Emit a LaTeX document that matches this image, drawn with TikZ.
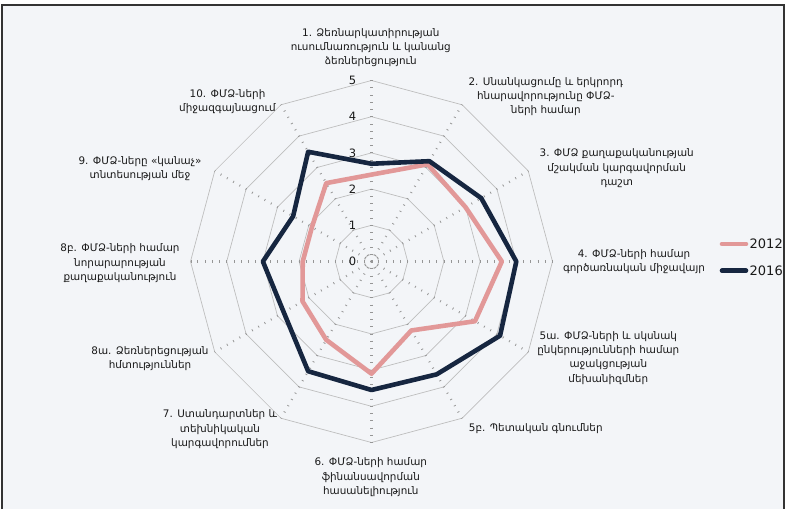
\documentclass[tikz,border=0pt]{standalone}
\usepackage{fontspec}
\setmainfont{DejaVu Sans}
\definecolor{bgc}{RGB}{243,245,248}
\definecolor{pinkc}{RGB}{226,152,152}
\definecolor{navyc}{RGB}{22,38,64}
\definecolor{ringc}{RGB}{190,190,190}
\definecolor{tickc}{RGB}{150,150,150}
\definecolor{txtc}{RGB}{25,25,25}
\begin{document}
\begin{tikzpicture}[x=1pt,y=1pt,
  frame/.style={draw=black!80,line width=1.6pt},
  ring/.style={draw=ringc,line width=0.7pt},
  spoke/.style={draw=tickc,line width=2.2pt,dash pattern=on 0.8pt off 6.44pt,dash phase=0.4pt},
  cat/.style={align=center,inner sep=0pt,text=txtc,font=\fontsize{10.4}{14.2}\selectfont},
  vallab/.style={inner sep=0pt,text=txtc,font=\fontsize{11.5}{13}\selectfont},
  series12/.style={draw=pinkc,line width=4.6pt,line join=round},
  series16/.style={draw=navyc,line width=4.6pt,line join=round},
  leglab/.style={anchor=west,inner sep=0pt,text=txtc,font=\fontsize{13}{15}\selectfont}]
\useasboundingbox (0,0) rectangle (786,509);
\fill[white] (0,0) rectangle (786,509);
\fill[bgc] (2,0) rectangle (784,504);
\draw[frame] (2,0) -- (2,504) -- (784,504) -- (784,0);
\def\u{36.2}
\coordinate (C) at (371.5,247.5);
\begin{scope}[shift={(C)}]
  \foreach \k in {1,...,5}{
    \draw[ring] (90:\k*\u) \foreach \a in {60,30,...,-240}{ -- (\a:\k*\u)} -- cycle;
  }
  \draw[ring] (0,0) circle (7);
  \foreach \a in {0,30,...,330}{
    \draw[spoke] (0,0) -- (\a:5*\u);
  }
  \draw[series12] (90:2.4*\u) -- (60:3.1*\u) -- (30:3.0*\u) -- (0:3.6*\u) -- (-30:3.3*\u) -- (-60:2.2*\u) -- (-90:3.1*\u) -- (-120:2.5*\u) -- (-150:2.2*\u) -- (-180:1.9*\u) -- (-210:1.9*\u) -- (-240:2.5*\u) -- cycle;
  \draw[series16] (90:2.7*\u) -- (60:3.2*\u) -- (30:3.5*\u) -- (0:4.0*\u) -- (-30:4.1*\u) -- (-60:3.6*\u) -- (-90:3.55*\u) -- (-120:3.5*\u) -- (-150:2.8*\u) -- (-180:3.0*\u) -- (-210:2.5*\u) -- (-240:3.5*\u) -- cycle;
\end{scope}
\foreach \k in {0,...,5}{
  \node[vallab] (v\k) at (352.5,247.5+\k*\u) {\k};
}
\node[cat] (c1) at (370.8,461.5) {1. Ձեռնարկատիրության\\ուսումնառություն և կանանց\\ձեռներեցություն};
\node[cat] (c2) at (545.8,412.3) {2. Սնանկացումը և երկրորդ\\հնարավորությունը ՓՄՁ-\\ների համար};
\node[cat] (c3) at (616.7,340.7) {3. ՓՄՁ քաղաքականության\\մշակման կարգավորման\\դաշտ};
\node[cat] (c4) at (634,247) {4. ՓՄՁ-ների համար\\գործառնական միջավայր};
\node[cat] (c5a) at (608.3,151) {5ա. ՓՄՁ-ների և սկսնակ\\ընկերությունների համար\\աջակցության\\մեխանիզմներ};
\node[cat] (c5b) at (535.8,80.7) {5բ. Պետական գնումներ};
\node[cat] (c6) at (370.8,31.7) {6. ՓՄՁ-ների համար\\ֆինանսավորման\\հասանելիություն};
\node[cat] (c7) at (220,79.7) {7. Ստանդարտներ և\\տեխնիկական\\կարգավորումներ};
\node[cat] (c8a) at (150,150.2) {8ա. Ձեռներեցության\\հմտություններ};
\node[cat] (c8b) at (120,245.7) {8բ. ՓՄՁ-ների համար\\նորարարության\\քաղաքականություն};
\node[cat] (c9) at (140,340.7) {9. ՓՄՁ-ները «կանաչ»\\տնտեսության մեջ};
\node[cat] (c10) at (227.5,407.3) {10. ՓՄՁ-ների\\միջազգայնացում};
\coordinate (l1a) at (722,265);
\coordinate (l1b) at (746,265);
\coordinate (l2a) at (722,238.3);
\coordinate (l2b) at (746,238.3);
\draw[series12,line cap=round] (l1a) -- (l1b);
\draw[series16,line cap=round] (l2a) -- (l2b);
\node[leglab] (g1) at (749.5,265) {2012};
\node[leglab] (g2) at (749.5,238.3) {2016};
\end{tikzpicture}
\end{document}
